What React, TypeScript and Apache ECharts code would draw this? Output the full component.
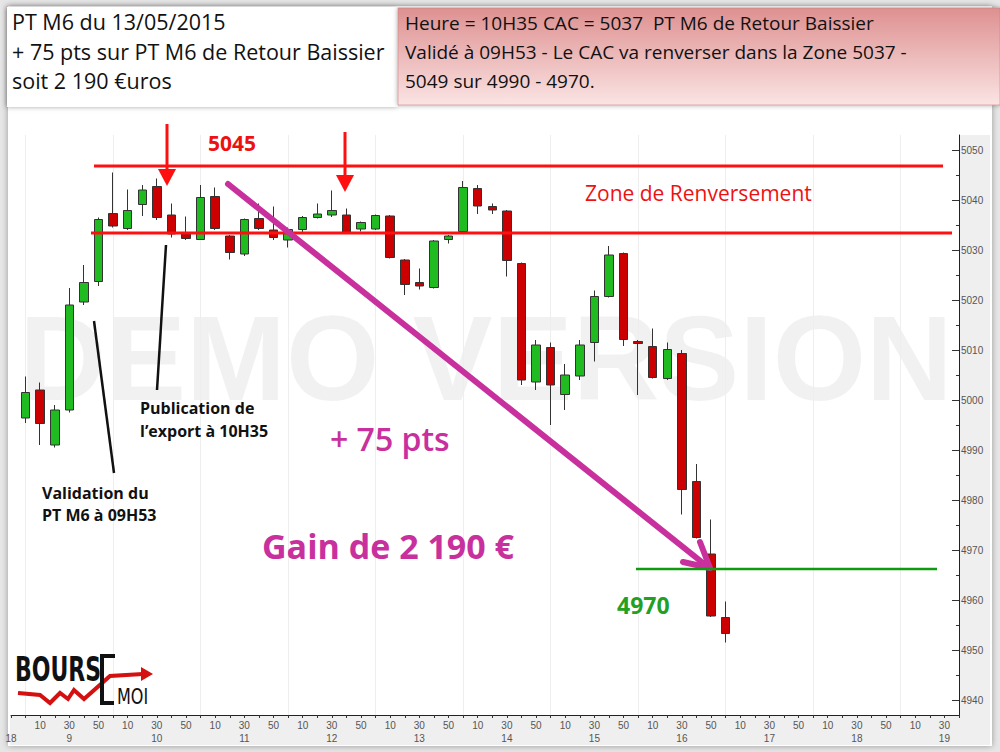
import React, { useEffect, useRef } from "react";
import * as echarts from "echarts";

// 10-minute slots from 08:50 to 19:40
const timeSlots: string[] = [];
for (let m = 8 * 60 + 50; m <= 19 * 60 + 40; m += 10) {
  const h = Math.floor(m / 60);
  const mm = m % 60;
  timeSlots.push(`${String(h).padStart(2, "0")}:${String(mm).padStart(2, "0")}`);
}

// [open, close, low, high] from 09:00 to 17:00
const candles: number[][] = [
  [4996.4, 5001.5, 4995.4, 5004.7],
  [5002, 4995.3, 4991, 5003.5],
  [4991, 4998, 4990.5, 4999],
  [4998, 5019, 4997.5, 5022.4],
  [5019.6, 5023.5, 5019, 5027],
  [5023.7, 5036.1, 5022.8, 5036.5],
  [5037.3, 5034.8, 5034.5, 5045.5],
  [5034.3, 5037.9, 5034, 5042.1],
  [5039.1, 5042, 5036.8, 5043],
  [5042.7, 5036.5, 5036, 5044.3],
  [5037, 5033.2, 5032.5, 5039.3],
  [5033.2, 5032.3, 5032, 5036.7],
  [5032.1, 5040.5, 5032, 5043],
  [5040.7, 5034.3, 5034, 5042.5],
  [5032.8, 5029.5, 5028.1, 5033],
  [5029.2, 5036.1, 5028.8, 5036.3],
  [5036.3, 5034.3, 5034, 5039.3],
  [5034, 5032.5, 5032, 5038.7],
  [5032, 5034.1, 5030.5, 5034.5],
  [5034.1, 5036.5, 5033.5, 5036.8],
  [5036.5, 5037.2, 5036.3, 5039.3],
  [5037, 5037.9, 5036.6, 5041.9],
  [5037, 5033.5, 5033.3, 5038.3],
  [5034.2, 5035.5, 5033.7, 5035.7],
  [5034.2, 5036.9, 5034, 5037.1],
  [5036.8, 5028.5, 5028.3, 5037],
  [5028, 5023.1, 5021, 5028.2],
  [5023.5, 5022.8, 5022.1, 5026.3],
  [5022.5, 5031.8, 5022.3, 5032],
  [5032.1, 5032.8, 5031.3, 5033],
  [5033.7, 5042.5, 5033.5, 5043.8],
  [5042.3, 5038.8, 5037.2, 5043],
  [5038.7, 5038, 5037.2, 5039.3],
  [5037.8, 5027.9, 5024.7, 5038],
  [5027.3, 5004, 5003, 5027.5],
  [5003.6, 5011, 5002, 5012],
  [5010.5, 5003, 4995, 5011.5],
  [5001.1, 5005, 4998, 5007.2],
  [5004.8, 5011, 5004, 5012],
  [5011.5, 5020.7, 5007.7, 5021.9],
  [5020.7, 5029, 5020.5, 5030.8],
  [5029.3, 5012.1, 5010.8, 5029.5],
  [5011.7, 5011.3, 5001, 5012],
  [5010.7, 5004.5, 5004.3, 5014.3],
  [5004.3, 5010.1, 5004, 5011.5],
  [5009.3, 4982.1, 4977.1, 5010],
  [4983.7, 4972.5, 4972.3, 4987.2],
  [4969.2, 4956.8, 4956.6, 4976.1],
  [4956.5, 4953.3, 4951.5, 4959.7],
];
const firstCandleSlot = "09:00";

const yLabelValues = [4940, 4950, 4960, 4970, 4980, 4990, 5000, 5010, 5020, 5030, 5040, 5050];
const yMinorValues = [4945, 4955, 4965, 4975, 4985, 4995, 5005, 5015, 5025, 5035, 5045];
const minuteLabels = ["10", "30", "50"];
const hourLabels: Record<string, string> = {
  "08:50": "18",
  "09:30": "9",
  "10:30": "10",
  "11:30": "11",
  "12:30": "12",
  "13:30": "13",
  "14:30": "14",
  "15:30": "15",
  "16:30": "16",
  "17:30": "17",
  "18:30": "18",
  "19:30": "19",
};

const FONT = "'Open Sans', 'Noto Sans', sans-serif";
const LOGO_FONT = "'DejaVu Sans Condensed', 'Liberation Sans Narrow', sans-serif";
const MAGENTA = "#c8309e";
const RED = "#ff1010";

export default function App() {
  const ref = useRef<HTMLDivElement>(null);
  useEffect(() => {
    if (!ref.current) return;
    const chart = echarts.init(ref.current, undefined, { renderer: "svg" });
    const start = timeSlots.indexOf(firstCandleSlot);
    const seriesData = timeSlots.map((_, i) => {
      const c = candles[i - start];
      return c ? c : "-";
    });

    const t = (text: string, x: number, y: number, size: number, fill: string, weight: any = "normal", lineHeight?: number) => ({
      type: "text",
      z: 100,
      x,
      y,
      style: {
        text,
        fill,
        fontSize: size,
        fontFamily: FONT,
        fontWeight: weight,
        align: "left",
        verticalAlign: "middle",
        lineHeight: lineHeight ?? Math.round(size * 1.1),
      },
    });

    const graphics: any[] = [
      // frame & backgrounds
      { type: "rect", z: -10, shape: { x: 0, y: 0, width: 1000, height: 752 }, style: { fill: "#e6e6e6" } },
      { type: "rect", z: -9, shape: { x: 8, y: 6, width: 984, height: 740 }, style: { fill: "#ffffff", shadowBlur: 6, shadowColor: "rgba(0,0,0,0.35)" } },
      { type: "rect", z: -8, shape: { x: 10, y: 716, width: 980, height: 29 }, style: { fill: "#efefef" } },
      { type: "rect", z: -8, shape: { x: 960, y: 135, width: 30, height: 581 }, style: { fill: "#efefef" } },
      // watermark
      {
        type: "text",
        z: -5,
        x: 486,
        y: 358,
        style: {
          text: "DEMO VERSION",
          fill: "rgba(0,0,0,0.055)",
          fontSize: 120,
          lineHeight: 88,
          fontWeight: "bold",
          fontFamily: "'Liberation Sans', Arial, sans-serif",
          align: "center",
          verticalAlign: "middle",
        },
      },
      // top-left box
      { type: "rect", z: 90, shape: { x: 7, y: 7, width: 391, height: 100 }, style: { fill: "#ffffff", shadowBlur: 5, shadowColor: "rgba(0,0,0,0.35)", shadowOffsetX: -1, shadowOffsetY: 0 } },
      t("PT M6 du 13/05/2015\n+ 75 pts sur PT M6 de Retour Baissier\nsoit 2 190 €uros", 12, 51, 21.5, "#111", "normal", 29.5),
      // top-right box
      {
        type: "rect",
        z: 90,
        shape: { x: 398, y: 8, width: 602, height: 97 },
        style: {
          fill: new echarts.graphic.LinearGradient(0, 0, 0, 1, [
            { offset: 0, color: "#de9090" },
            { offset: 1, color: "#fbe4e4" },
          ]),
          stroke: "#c98080",
          lineWidth: 0.6,
          shadowBlur: 5,
          shadowColor: "rgba(0,0,0,0.35)",
        },
      },
      t(
        "Heure = 10H35 CAC = 5037  PT M6 de Retour Baissier\nValidé à 09H53 - Le CAC va renverser dans la Zone 5037 -\n5049 sur 4990 - 4970.",
        405,
        52,
        19,
        "#111",
        "normal",
        29
      ),
      // zone lines
      { type: "line", z: 100, shape: { x1: 94, y1: 166, x2: 943, y2: 166 }, style: { stroke: RED, lineWidth: 3 } },
      { type: "line", z: 100, shape: { x1: 91, y1: 233, x2: 952, y2: 233 }, style: { stroke: RED, lineWidth: 3 } },
      t("5045", 208, 143, 21, "#ee1111", "bold"),
      t("Zone de Renversement", 585, 193, 21, "#ee1111"),
      // red arrows
      { type: "line", z: 100, shape: { x1: 167, y1: 124, x2: 167, y2: 172 }, style: { stroke: RED, lineWidth: 3 } },
      { type: "polygon", z: 100, shape: { points: [[158, 169], [176, 169], [167, 186]] }, style: { fill: RED } },
      { type: "line", z: 100, shape: { x1: 345, y1: 132, x2: 345, y2: 178 }, style: { stroke: RED, lineWidth: 3 } },
      { type: "polygon", z: 100, shape: { points: [[336, 175], [354, 175], [345, 192]] }, style: { fill: RED } },
      // magenta arrow
      { type: "line", z: 100, shape: { x1: 228, y1: 184, x2: 708, y2: 567 }, style: { stroke: MAGENTA, lineWidth: 6, lineCap: "round" } },
      { type: "polyline", z: 100, shape: { points: [[683, 562], [710, 568], [700, 542]] }, style: { stroke: MAGENTA, lineWidth: 6, lineCap: "round", lineJoin: "round", fill: null } },
      t("+ 75 pts", 330, 438, 32, MAGENTA, 600),
      t("Gain de 2 190 €", 262, 546, 34, MAGENTA, "bold"),
      // target line
      { type: "line", z: 100, shape: { x1: 636, y1: 569, x2: 937, y2: 569 }, style: { stroke: "#109a10", lineWidth: 2.5 } },
      t("4970", 617, 605, 23, "#22a022", "bold"),
      // pointer lines
      { type: "line", z: 100, shape: { x1: 94, y1: 321, x2: 114, y2: 473 }, style: { stroke: "#111", lineWidth: 2.5 } },
      { type: "line", z: 100, shape: { x1: 166, y1: 245, x2: 157, y2: 390 }, style: { stroke: "#111", lineWidth: 2.5 } },
      t("Publication de\nl\u2019export à 10H35", 140, 419.5, 16, "#111", "bold", 23),
      t("Validation du\nPT M6 à 09H53", 42, 504, 16, "#111", "bold", 22),
      // logo
      {
        type: "text",
        z: 100,
        x: 15,
        y: 670,
        scaleX: 0.72,
        style: { text: "BOURS", fill: "#111", fontSize: 34, lineHeight: 34, fontWeight: "bold", fontFamily: LOGO_FONT, align: "left", verticalAlign: "middle" },
      },
      {
        type: "polyline",
        z: 101,
        shape: { points: [[18, 693], [40, 695], [50, 703], [60, 693], [68, 699], [74, 690], [84, 699], [110, 676], [143, 674]] },
        style: { stroke: "#d41010", lineWidth: 4, fill: null, lineJoin: "miter" },
      },
      { type: "polygon", z: 101, shape: { points: [[141, 667], [153, 674], [141, 681]] }, style: { fill: "#d41010" } },
      { type: "rect", z: 102, shape: { x: 100, y: 654, width: 4, height: 51 }, style: { fill: "#111" } },
      { type: "rect", z: 102, shape: { x: 100, y: 654, width: 15, height: 4 }, style: { fill: "#111" } },
      { type: "rect", z: 102, shape: { x: 100, y: 701, width: 14, height: 4 }, style: { fill: "#111" } },
      {
        type: "text",
        z: 100,
        x: 117,
        y: 697,
        scaleX: 0.85,
        style: { text: "MOI", fill: "#111", fontSize: 21, lineHeight: 18, fontFamily: LOGO_FONT, align: "left", verticalAlign: "middle" },
      },
    ];

    chart.setOption({
      animation: false,
      backgroundColor: "transparent",
      grid: { left: 11, right: 41, top: 135, bottom: 37, containLabel: false },
      xAxis: {
        type: "category",
        data: timeSlots,
        boundaryGap: false,
        axisLine: { show: true, lineStyle: { color: "#222", width: 1 } },
        axisTick: { show: true, interval: 0, length: 3, lineStyle: { color: "#333" } },
        splitLine: {
          show: true,
          interval: (_i: number, v: string) => v.endsWith(":00"),
          lineStyle: { color: "#eeeeee", width: 1 },
        },
        axisLabel: {
          interval: (i: number, v: string) => i === 0 || minuteLabels.includes(v.slice(3)),
          formatter: (v: string, i: number) => {
            const top = i === 0 ? " " : v.slice(3);
            const hour = hourLabels[v];
            return hour ? `${top}\n${hour}` : top;
          },
          color: "#555",
          fontSize: 10,
          fontFamily: "'Liberation Sans', Arial, sans-serif",
          lineHeight: 13,
          margin: 4,
        },
      },
      yAxis: [
        {
          type: "value",
          position: "right",
          min: 4937,
          max: 5053,
          axisLine: { show: true, lineStyle: { color: "#222", width: 1 } },
          axisTick: { show: true, inside: true, length: 7, customValues: yLabelValues, lineStyle: { color: "#333" } },
          axisLabel: {
            customValues: yLabelValues,
            formatter: (v: number) => String(v),
            color: "#555",
            fontSize: 10,
            fontFamily: "'Liberation Sans', Arial, sans-serif",
            margin: 2,
          },
          splitLine: { show: false },
        },
        {
          type: "value",
          position: "right",
          min: 4937,
          max: 5053,
          axisLine: { show: false },
          axisTick: { show: true, inside: true, length: 3, customValues: yMinorValues, lineStyle: { color: "#333" } },
          axisLabel: { show: false },
          splitLine: { show: false },
        },
      ],
      series: [
        {
          type: "candlestick",
          data: seriesData,
          barWidth: 9,
          itemStyle: {
            color: "#20bb20",
            color0: "#cc0000",
            borderColor: "#333",
            borderColor0: "#333",
            borderWidth: 1,
          },
        },
      ],
      graphic: graphics,
    });
    return () => chart.dispose();
  }, []);
  return <div ref={ref} style={{ position: "absolute", left: 0, top: 0, width: 1000, height: 752 }} />;
}
